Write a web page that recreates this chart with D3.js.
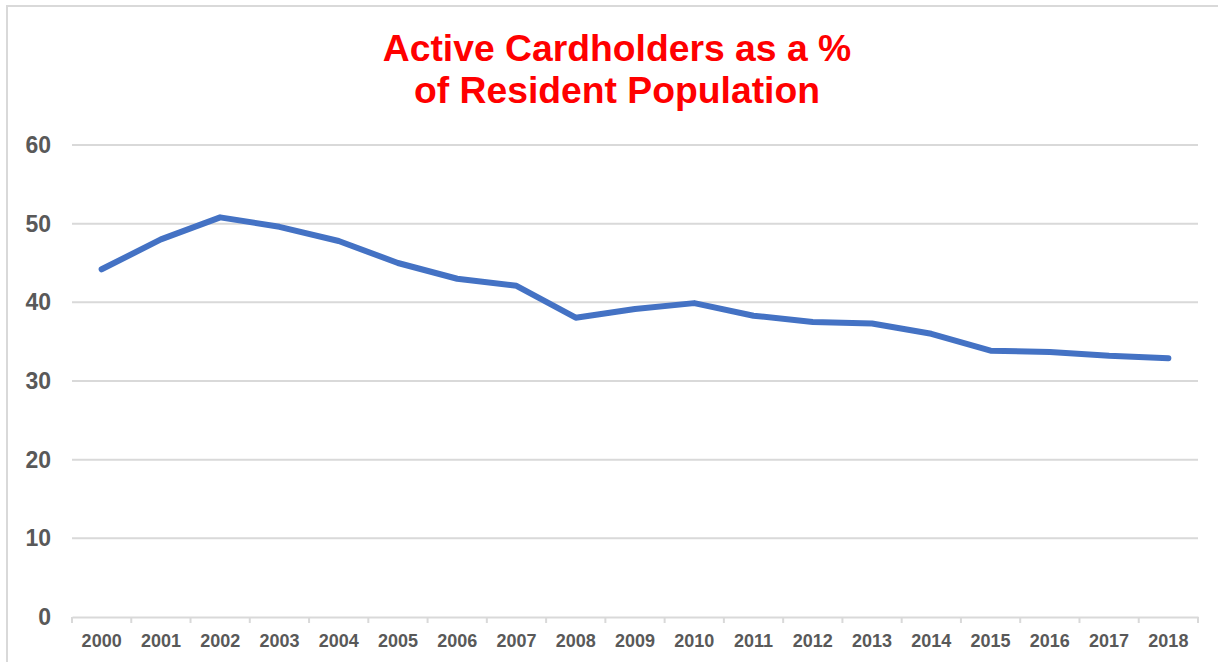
<!DOCTYPE html>
<html>
<head>
<meta charset="utf-8">
<script src="https://cdn.jsdelivr.net/npm/d3@7"></script>
<style>
  html, body { margin: 0; padding: 0; background: #fff; }
  svg { display: block; font-family: "Liberation Sans", Arial, sans-serif; }
</style>
</head>
<body>
<svg id="chart" width="1218" height="662"></svg>
<script>
const years = ["2000","2001","2002","2003","2004","2005","2006","2007","2008","2009","2010","2011","2012","2013","2014","2015","2016","2017","2018"];
const values = [44.2, 48.0, 50.8, 49.6, 47.8, 45.0, 43.0, 42.1, 38.05, 39.15, 39.9, 38.3, 37.5, 37.3, 36.0, 33.85, 33.7, 33.2, 32.9];
const yTicks = [0, 10, 20, 30, 40, 50, 60];
const titleLines = ["Active Cardholders as a %", "of Resident Population"];

(function () {
const svg = d3.select("#chart");
const W = 1218, H = 662;
const plotL = 72, plotR = 1198, plotT = 145, plotB = 617;

// outer border
svg.append("rect")
  .attr("x", 7).attr("y", 6)
  .attr("width", W + 20).attr("height", H + 20)
  .attr("fill", "#fff").attr("stroke", "#d9d9d9").attr("stroke-width", 2);

const x = d3.scaleBand().domain(years).range([plotL, plotR]).padding(0);
const y = d3.scaleLinear().domain([0, 60]).range([plotB, plotT]);

// gridlines
svg.append("g")
  .selectAll("line")
  .data(yTicks.filter(d => d !== 0))
  .join("line")
  .attr("x1", plotL).attr("x2", plotR)
  .attr("y1", d => y(d)).attr("y2", d => y(d))
  .attr("stroke", "#d9d9d9").attr("stroke-width", 2);

// y labels
svg.append("g")
  .selectAll("text")
  .data(yTicks)
  .join("text")
  .attr("x", 51)
  .attr("y", d => y(d))
  .attr("dy", "0.35em")
  .attr("text-anchor", "end")
  .attr("font-size", 23)
  .attr("font-weight", "bold")
  .attr("fill", "#595959")
  .text(d => d);

// x axis
const xAxis = d3.axisBottom(x).tickSize(0).tickFormat(d => d);
const gx = svg.append("g").attr("transform", `translate(0,${plotB})`).call(xAxis);
gx.select(".domain").attr("stroke", "#d9d9d9").attr("stroke-width", 2);
gx.selectAll(".tick text")
  .attr("y", 0).attr("dy", 0)
  .attr("transform", "translate(0,30)")
  .attr("font-size", 18)
  .attr("font-weight", "bold")
  .attr("font-family", "Liberation Sans, Arial, sans-serif")
  .attr("fill", "#595959");
gx.selectAll(".tick line").remove();

// category boundary ticks
const boundaries = years.map(d => x(d)).concat([x(years[years.length - 1]) + x.bandwidth()]);
svg.append("g")
  .selectAll("line")
  .data(boundaries)
  .join("line")
  .attr("x1", d => d).attr("x2", d => d)
  .attr("y1", plotB).attr("y2", plotB + 6)
  .attr("stroke", "#d9d9d9").attr("stroke-width", 2);

// line
const line = d3.line()
  .x((d, i) => x(years[i]) + x.bandwidth() / 2)
  .y(d => y(d));
svg.append("path")
  .datum(values)
  .attr("d", line)
  .attr("fill", "none")
  .attr("stroke", "#4472C4")
  .attr("stroke-width", 6)
  .attr("stroke-linecap", "round")
  .attr("stroke-linejoin", "round");

// title
svg.append("g")
  .selectAll("text")
  .data(titleLines)
  .join("text")
  .attr("x", 617)
  .attr("y", (d, i) => 61 + i * 42)
  .attr("text-anchor", "middle")
  .attr("font-size", 37.3)
  .attr("font-weight", "bold")
  .attr("fill", "#FF0000")
  .text(d => d);
})();
</script>
</body>
</html>
